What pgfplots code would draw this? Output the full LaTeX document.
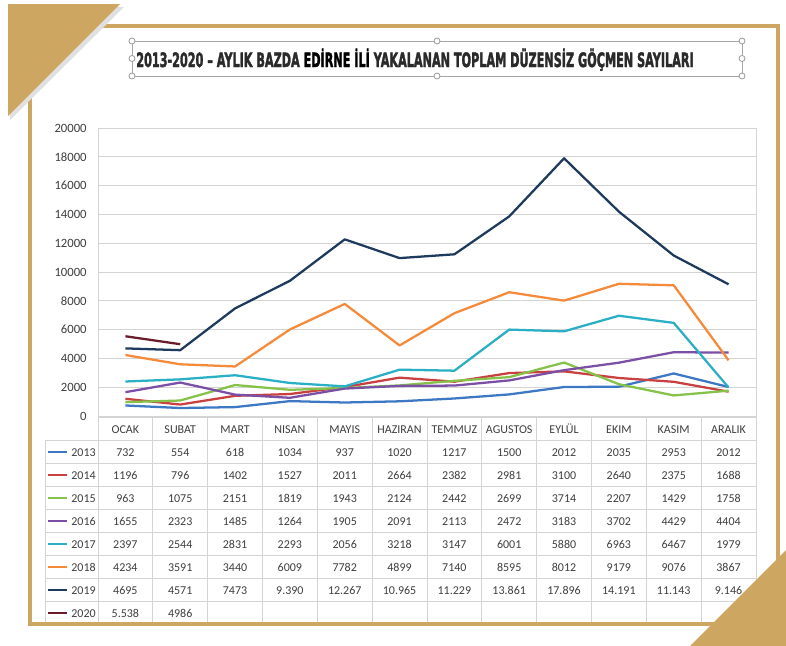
\documentclass[border=0pt]{standalone}
\usepackage{fontspec}
\setmainfont{Carlito}
\newfontfamily\titlefont{DejaVu Sans}[BoldFeatures={FakeBold=2.5}]
\usepackage{graphicx}
\usepackage{pgfplots}
\pgfplotsset{compat=1.18}
\definecolor{cA}{HTML}{3C78C3}
\definecolor{cB}{HTML}{C84040}
\definecolor{cC}{HTML}{86C24A}
\definecolor{cD}{HTML}{7B4FA6}
\definecolor{cE}{HTML}{2AAFC6}
\definecolor{cF}{HTML}{F58B3A}
\definecolor{cG}{HTML}{1E3A5C}
\definecolor{cH}{HTML}{6A1C2A}
\definecolor{gold}{HTML}{CDA662}
\definecolor{tgrid}{HTML}{D4D4D4}
\definecolor{ttext}{HTML}{3F3F3F}
\definecolor{titlegray}{HTML}{2A2A2A}
\newcommand\trow[2]{\foreach \v [count=\i from 0] in {#2} {\node[anchor=base,inner sep=0pt,text=ttext,font=\fontsize{9}{10}\selectfont] at ({125.4+54.83*\i},#1+4) {\v};}}
\begin{document}
\begin{tikzpicture}
\useasboundingbox (0,0) rectangle (589.5pt,-484.5pt);
\fill[white] (0,0) rectangle (589.5pt,-484.5pt);
\begin{axis}[
  at={(73.5pt,-312pt)}, anchor=south west,
  width=493.5pt, height=216pt, scale only axis,
  xmin=-0.5, xmax=11.5, ymin=0, ymax=20000,
  xtick=\empty,
  ytick={0,2000,...,20000},
  scaled y ticks=false,
  major tick length=0pt,
  ymajorgrids, grid style={draw=tgrid, line width=0.6pt},
  axis line style={draw=tgrid, line width=0.7pt},
  yticklabel style={font=\fontsize{9.5}{10}\selectfont, text=ttext, xshift=-5pt,
    /pgf/number format/1000 sep={}, /pgf/number format/assume math mode=true},
  every axis plot/.append style={line width=1.7pt, mark=none, line join=round},
  clip=false,
]
\addplot[cA] coordinates {(0,732)(1,554)(2,618)(3,1034)(4,937)(5,1020)(6,1217)(7,1500)(8,2012)(9,2035)(10,2953)(11,2012)};
\addplot[cB] coordinates {(0,1196)(1,796)(2,1402)(3,1527)(4,2011)(5,2664)(6,2382)(7,2981)(8,3100)(9,2640)(10,2375)(11,1688)};
\addplot[cC] coordinates {(0,963)(1,1075)(2,2151)(3,1819)(4,1943)(5,2124)(6,2442)(7,2699)(8,3714)(9,2207)(10,1429)(11,1758)};
\addplot[cD] coordinates {(0,1655)(1,2323)(2,1485)(3,1264)(4,1905)(5,2091)(6,2113)(7,2472)(8,3183)(9,3702)(10,4429)(11,4404)};
\addplot[cE] coordinates {(0,2397)(1,2544)(2,2831)(3,2293)(4,2056)(5,3218)(6,3147)(7,6001)(8,5880)(9,6963)(10,6467)(11,1979)};
\addplot[cF] coordinates {(0,4234)(1,3591)(2,3440)(3,6009)(4,7782)(5,4899)(6,7140)(7,8595)(8,8012)(9,9179)(10,9076)(11,3867)};
\addplot[cG] coordinates {(0,4695)(1,4571)(2,7473)(3,9390)(4,12267)(5,10965)(6,11229)(7,13861)(8,17896)(9,14191)(10,11143)(11,9146)};
\addplot[cH] coordinates {(0,5538)(1,4986)};
\end{axis}
\begin{scope}[x=0.75pt,y=-0.75pt]
% table grid
\draw[tgrid, line width=0.7pt] (98,417) -- (756,417);
\foreach \yy in {440.5,463.5,486.5,509.5,532.5,555.5,578.5,601.5,624.5} \draw[tgrid, line width=0.7pt] (45,\yy) -- (756,\yy);
\foreach \k in {0,...,12} \draw[tgrid, line width=0.7pt] ({98+54.83*\k},417) -- ({98+54.83*\k},624.5);
\draw[tgrid, line width=0.7pt] (45,440.5) -- (45,624.5);
% header
\trow{429}{OCAK,SUBAT,MART,NISAN,MAYIS,HAZIRAN,TEMMUZ,AGUSTOS,EYLÜL,EKIM,KASIM,ARALIK}
\trow{452}{732,554,618,1034,937,1020,1217,1500,2012,2035,2953,2012}
\trow{475}{1196,796,1402,1527,2011,2664,2382,2981,3100,2640,2375,1688}
\trow{498}{963,1075,2151,1819,1943,2124,2442,2699,3714,2207,1429,1758}
\trow{521}{1655,2323,1485,1264,1905,2091,2113,2472,3183,3702,4429,4404}
\trow{544}{2397,2544,2831,2293,2056,3218,3147,6001,5880,6963,6467,1979}
\trow{567}{4234,3591,3440,6009,7782,4899,7140,8595,8012,9179,9076,3867}
\trow{590}{4695,4571,7473,9.390,12.267,10.965,11.229,13.861,17.896,14.191,11.143,9.146}
\trow{613}{5.538,4986}
% legend keys
\foreach \c/\yr/\yy in {cA/2013/452,cB/2014/475,cC/2015/498,cD/2016/521,cE/2017/544,cF/2018/567,cG/2019/590,cH/2020/613} {
  \draw[\c, line width=1.8pt] (48,\yy) -- (67,\yy);
  \node[anchor=base east, inner sep=0pt, text=ttext, font=\fontsize{9}{10}\selectfont] at (96,\yy+4) {\yr};
}
% title with selection box
\draw[gray!70, line width=0.6pt] (132,41) rectangle (742,76);
\foreach \px/\py in {132/41,437/41,742/41,132/58.5,742/58.5,132/76,437/76,742/76}
  \draw[gray!80, fill=white, line width=0.6pt] (\px,\py) circle (3);
\node[anchor=base, inner sep=0pt] at (415,67) {\resizebox{418pt}{\height}{\titlefont\bfseries\fontsize{14.8}{16}\selectfont\color{titlegray}2013-2020 – AYLIK BAZDA {\color{black}EDİRNE İLİ} YAKALANAN TOPLAM DÜZENSİZ GÖÇMEN SAYILARI}};
% frame
\draw[gold, line width=3pt] (30,26) rectangle (778,624);
\fill[black!12] (10,7) -- (124,7) -- (10,120) -- cycle;
\fill[gold] (8,4) -- (120,4) -- (8,116) -- cycle;
\fill[gold] (786,550) -- (786,646) -- (690,646) -- cycle;
\end{scope}
\end{tikzpicture}
\end{document}
